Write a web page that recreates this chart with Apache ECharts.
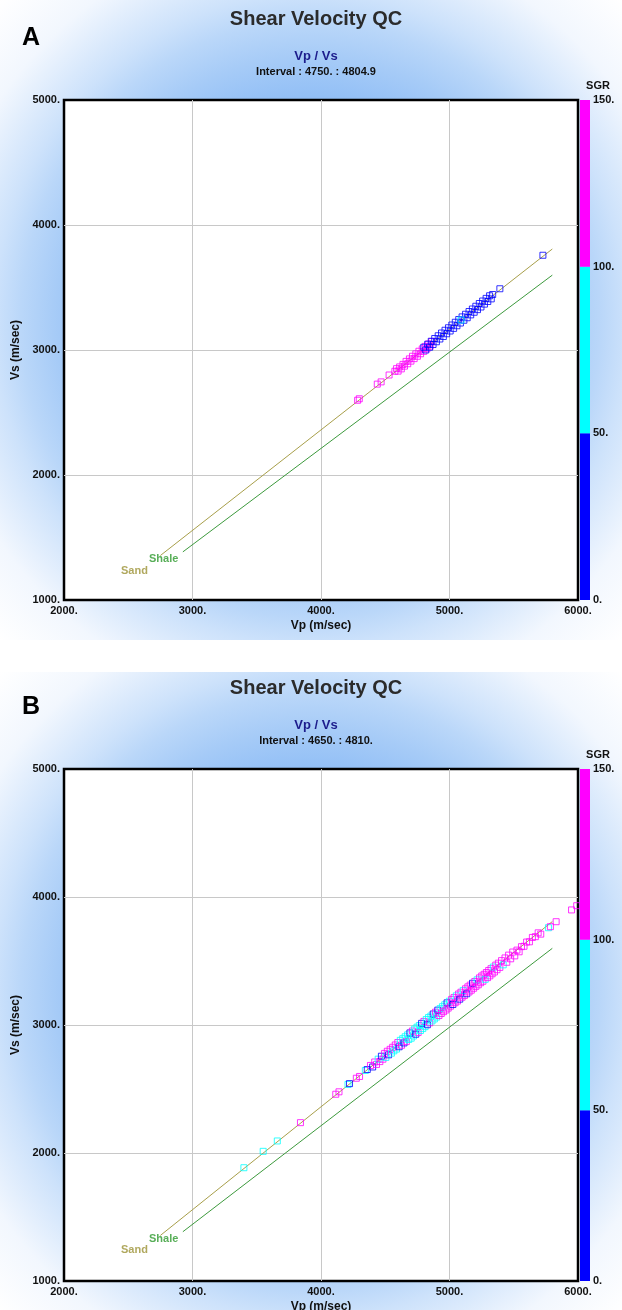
<!DOCTYPE html>
<html>
<head>
<meta charset="utf-8">
<title>Shear Velocity QC</title>
<script src="https://cdn.jsdelivr.net/npm/echarts@6/dist/echarts.min.js"></script>
<style>
  html, body { margin: 0; padding: 0; background: #ffffff; }
  #wrap { position: relative; width: 622px; height: 1310px; overflow: hidden; }
  .panel-bg {
    position: absolute; left: 0; width: 622px;
    background: radial-gradient(ellipse farthest-corner at 50% 50%,
      #74aaf2 0%, #92bff6 49%, #a6cbf7 58%, #bad7f9 66%, #cde2fb 72%, #f2f7fe 86%, #ffffff 100%);
  }
  #bgA { top: 0; height: 640px; }
  #bgB { top: 672px; height: 640px; }
  #chart { position: absolute; left: 0; top: 0; width: 622px; height: 1310px; }
</style>
</head>
<body>
<div id="wrap">
  <div class="panel-bg" id="bgA"></div>
  <div class="panel-bg" id="bgB"></div>
  <div id="chart"></div>
</div>
<script>
// ---- axis ranges ----
const vpRange = [2000, 6000];
const vsRange = [1000, 5000];
const velocityStep = 1000;
const sgrRange = [0, 150];
const sgrStep = 50;

// ---- SGR colour scale (stacked segments of the colour bar) ----
const sgrBands = [50, 50, 50];
const sgrBandColors = ['#0000ff', '#00ffff', '#ff00ff'];

// ---- reference trends [Vp, Vs] ----
const sandLine = [[2750, 1356], [5800, 3808]];
const shaleLine = [[2925, 1385], [5800, 3599]];

// ---- panel text ----
const panelLetters = ['A', 'B'];
const chartTitle = 'Shear Velocity QC';
const crossplotName = 'Vp / Vs';
const intervalLabels = ['Interval : 4750. : 4804.9', 'Interval : 4650. : 4810.'];

// ---- samples [Vp, Vs, SGR], interval 4750 - 4804.9 ----
const pointsA = [
  [4285, 2598, 118], [4298, 2610, 125], [4438, 2727, 112], [4468, 2745, 130],
  [4530, 2800, 120], [4575, 2830, 135], [4588, 2851, 115], [4600, 2831, 128],
  [4612, 2865, 110], [4625, 2849, 140], [4638, 2885, 122], [4650, 2871, 118],
  [4662, 2909, 131], [4675, 2890, 114], [4688, 2929, 126], [4700, 2911, 138],
  [4712, 2950, 120], [4725, 2931, 112], [4738, 2969, 129], [4750, 2950, 117],
  [4762, 2990, 124], [4775, 2970, 133], [4788, 3009, 115], [4800, 2989, 121],
  [4812, 3029, 136], [4825, 3010, 113], [4838, 3049, 127], [4850, 3031, 119],
  [4862, 3068, 108],
  [4800, 3022, 32], [4815, 3000, 18], [4830, 3046, 41], [4845, 3022, 25],
  [4858, 3070, 12], [4872, 3044, 38], [4885, 3092, 21], [4898, 3066, 45],
  [4912, 3114, 15], [4925, 3088, 30], [4938, 3136, 27], [4952, 3108, 8],
  [4965, 3158, 35], [4978, 3130, 22], [4992, 3178, 40], [5005, 3152, 17],
  [5018, 3200, 28], [5032, 3173, 36], [5045, 3222, 11], [5058, 3194, 44],
  [5072, 3244, 24], [5085, 3216, 31], [5098, 3265, 19], [5112, 3238, 39],
  [5125, 3286, 26], [5138, 3258, 14], [5152, 3308, 33], [5165, 3281, 20],
  [5178, 3328, 42], [5192, 3302, 16], [5205, 3350, 29], [5218, 3323, 37],
  [5232, 3372, 23], [5245, 3344, 10], [5258, 3392, 34], [5272, 3367, 27],
  [5285, 3413, 18], [5298, 3388, 43], [5312, 3434, 25], [5325, 3409, 31],
  [5336, 3444, 20], [5392, 3490, 28], [5727, 3758, 35],
  [5090, 3240, 62]
];

// ---- samples [Vp, Vs, SGR], interval 4650 - 4810 ----
const pointsB = [
  [3400, 1885, 75], [3550, 2013, 70], [3660, 2094, 80], [3840, 2237, 125],
  [4115, 2459, 120], [4140, 2478, 130], [4210, 2536, 65], [4222, 2542, 30],
  [4275, 2584, 115], [4300, 2598, 125], [4345, 2645, 60], [4360, 2652, 35],
  [4385, 2684, 120], [4402, 2672, 40], [4418, 2711, 130], [4432, 2692, 110],
  [4445, 2733, 85], [4458, 2714, 125], [4470, 2756, 20], [4482, 2733, 140],
  [4495, 2778, 115], [4505, 2747, 70], [4516, 2795, 130], [4526, 2767, 30],
  [4538, 2810, 120], [4548, 2780, 75], [4558, 2826, 135], [4567, 2798, 90],
  [4578, 2844, 110], [4588, 2812, 60], [4598, 2863, 125], [4608, 2830, 40],
  [4617, 2880, 65], [4627, 2842, 118], [4636, 2893, 80], [4646, 2860, 30],
  [4655, 2908, 70], [4664, 2870, 128], [4674, 2923, 60], [4683, 2887, 85],
  [4692, 2938, 25], [4702, 2897, 75], [4711, 2953, 112], [4720, 2914, 65],
  [4729, 2968, 90], [4738, 2928, 40], [4747, 2983, 70], [4756, 2942, 120],
  [4765, 2996, 60], [4774, 2957, 80], [4783, 3013, 35], [4792, 2972, 75],
  [4801, 3028, 135], [4810, 2987, 65], [4819, 3043, 85], [4828, 3002, 20],
  [4837, 3058, 70], [4846, 3017, 115], [4855, 3070, 60], [4864, 3032, 90],
  [4873, 3086, 45], [4882, 3047, 70], [4891, 3100, 125], [4900, 3062, 65],
  [4909, 3116, 30], [4918, 3074, 110], [4927, 3128, 75], [4936, 3090, 140],
  [4945, 3143, 60], [4954, 3104, 120], [4963, 3158, 85], [4972, 3117, 115],
  [4981, 3173, 40], [4990, 3132, 130], [4999, 3186, 70], [5008, 3147, 120],
  [5017, 3200, 110], [5026, 3160, 25], [5035, 3214, 135], [5044, 3174, 120],
  [5053, 3228, 60], [5062, 3187, 115], [5071, 3242, 140], [5080, 3202, 30],
  [5089, 3256, 125], [5098, 3217, 110], [5107, 3270, 70], [5116, 3230, 130],
  [5125, 3283, 120], [5134, 3244, 40], [5143, 3298, 115], [5152, 3258, 135],
  [5161, 3312, 110], [5170, 3272, 125], [5179, 3326, 20], [5188, 3287, 140],
  [5197, 3340, 115], [5206, 3302, 120], [5215, 3353, 65], [5224, 3314, 130],
  [5233, 3368, 110], [5242, 3330, 125], [5251, 3383, 135], [5260, 3342, 115],
  [5269, 3396, 120], [5278, 3357, 60], [5287, 3410, 130], [5296, 3370, 110],
  [5305, 3426, 125], [5314, 3384, 135], [5323, 3440, 115], [5332, 3400, 120],
  [5341, 3453, 60], [5350, 3414, 130], [5360, 3468, 110], [5370, 3432, 125],
  [5380, 3483, 140], [5392, 3450, 115], [5405, 3503, 120], [5418, 3470, 75],
  [5432, 3524, 130], [5446, 3490, 110], [5460, 3546, 125], [5476, 3517, 135],
  [5492, 3570, 115], [5508, 3540, 120], [5525, 3585, 130], [5542, 3572, 110],
  [5560, 3612, 125], [5580, 3615, 140], [5600, 3648, 115], [5622, 3650, 120],
  [5645, 3684, 130], [5668, 3690, 110], [5690, 3720, 125], [5710, 3710, 120],
  [5770, 3760, 70], [5785, 3768, 125], [5830, 3807, 120], [5950, 3899, 130],
  [5990, 3932, 115]
];

const panelPoints = [pointsA, pointsB];

// ---- layout ----
const FONT = '"Liberation Sans", Arial, sans-serif';
const plotLeft = 64, plotWidth = 514;
const barLeft = 580, barWidth = 10;
const plotTops = [100, 769];
const plotHeights = [500, 512];
const titleX = 316;

function sgrColor(v) {
  let acc = sgrRange[0];
  for (let i = 0; i < sgrBands.length; i++) {
    acc += sgrBands[i];
    if (v < acc) return sgrBandColors[i];
  }
  return sgrBandColors[sgrBandColors.length - 1];
}

const grid = [], xAxis = [], yAxis = [], series = [], graphic = [];
const tickFmt = v => v + '.';
const tickLabel = { fontFamily: FONT, fontSize: 11, fontWeight: 'bold', color: '#111' };
const gridLines = { show: true, showMinLine: false, showMaxLine: false,
  lineStyle: { color: '#c8c8c8', width: 1 } };
const axisNameStyle = { fontFamily: FONT, fontSize: 12, fontWeight: 'bold', color: '#111' };

panelLetters.forEach((letter, i) => {
  const top = plotTops[i], h = plotHeights[i];
  const g = i * 2;

  // crossplot area
  grid.push({ left: plotLeft, top: top, width: plotWidth, height: h, show: true,
    outerBoundsMode: 'none', containLabel: false,
    backgroundColor: '#ffffff', borderColor: '#000000', borderWidth: 2.5 });
  // SGR colour bar
  grid.push({ left: barLeft, top: top, width: barWidth, height: h,
    outerBoundsMode: 'none', containLabel: false });

  xAxis.push({
    gridIndex: g, type: 'value', min: vpRange[0], max: vpRange[1], interval: velocityStep,
    name: 'Vp (m/sec)', nameLocation: 'middle', nameGap: 20, nameMoveOverlap: false,
    nameTextStyle: axisNameStyle,
    axisLine: { show: false }, axisTick: { show: false },
    axisLabel: Object.assign({ formatter: tickFmt, margin: 5 }, tickLabel),
    splitLine: gridLines
  });
  xAxis.push({ gridIndex: g + 1, type: 'category', data: ['SGR'], show: false });

  yAxis.push({
    gridIndex: g, type: 'value', min: vsRange[0], max: vsRange[1], interval: velocityStep,
    name: 'Vs (m/sec)', nameLocation: 'middle', nameGap: 42, nameMoveOverlap: false,
    nameTextStyle: axisNameStyle,
    axisLine: { show: false }, axisTick: { show: false },
    axisLabel: Object.assign({ formatter: tickFmt, margin: 4 }, tickLabel),
    splitLine: gridLines
  });
  yAxis.push({
    gridIndex: g + 1, type: 'value', min: sgrRange[0], max: sgrRange[1], interval: sgrStep,
    position: 'right', axisLine: { show: false }, axisTick: { show: false },
    axisLabel: Object.assign({ formatter: tickFmt, margin: 3 }, tickLabel),
    splitLine: { show: false }
  });

  // colour bar segments
  sgrBands.forEach((band, k) => {
    series.push({
      type: 'bar', xAxisIndex: g + 1, yAxisIndex: g + 1, stack: 'sgr' + i,
      data: [band], barWidth: '100%', silent: true,
      itemStyle: { color: sgrBandColors[k] }
    });
  });

  // trend lines
  series.push({
    type: 'line', xAxisIndex: g, yAxisIndex: g, data: sandLine, showSymbol: false,
    silent: true, lineStyle: { color: '#a89f4a', width: 1 }, z: 3
  });
  series.push({
    type: 'line', xAxisIndex: g, yAxisIndex: g, data: shaleLine, showSymbol: false,
    silent: true, lineStyle: { color: '#3d9a3d', width: 1 }, z: 3
  });
  // trend names at the lower ends of the lines
  series.push({
    type: 'scatter', xAxisIndex: g, yAxisIndex: g, symbolSize: 1, silent: true,
    itemStyle: { color: 'rgba(0,0,0,0)' },
    data: [
      { value: sandLine[0], label: { formatter: 'Sand', color: '#9c9236', offset: [-12, 15] } },
      { value: shaleLine[0], label: { formatter: 'Shale', color: '#2e9a2e', offset: [-4, 7] } }
    ],
    label: { show: true, position: 'left', distance: 0, fontFamily: FONT, fontSize: 11, fontWeight: 'bold' }
  });

  // samples coloured by SGR
  series.push({
    type: 'scatter', xAxisIndex: g, yAxisIndex: g, symbol: 'rect', symbolSize: 6, z: 4,
    data: panelPoints[i].map(p => ({
      value: p,
      itemStyle: { color: 'rgba(0,0,0,0)', borderColor: sgrColor(p[2]), borderWidth: 1 }
    }))
  });

  // headings
  const txt = (x, y, text, font, fill, align) => ({
    type: 'text', x: x, y: y, silent: true,
    style: { text: text, font: font, fill: fill, align: align || 'center', textAlign: align || 'center',
      verticalAlign: 'middle', textVerticalAlign: 'middle' }
  });
  graphic.push(txt(31, top - 62, letter, 'bold 25px ' + FONT, '#000000'));
  graphic.push(txt(titleX, top - 81, chartTitle, 'bold 20px ' + FONT, '#2b2b2b'));
  graphic.push(txt(titleX, top - 44, crossplotName, 'bold 13px ' + FONT, '#1c1c8c'));
  graphic.push(txt(titleX, top - 28, intervalLabels[i], 'bold 11px ' + FONT, '#111111'));
  graphic.push(txt(598, top - 14, 'SGR', 'bold 11px ' + FONT, '#111111'));
});

const chart = echarts.init(document.getElementById('chart'), null, { renderer: 'canvas' });
chart.setOption({
  backgroundColor: 'transparent',
  animation: false,
  grid: grid,
  xAxis: xAxis,
  yAxis: yAxis,
  series: series,
  graphic: { elements: graphic }
});
</script>
</body>
</html>
